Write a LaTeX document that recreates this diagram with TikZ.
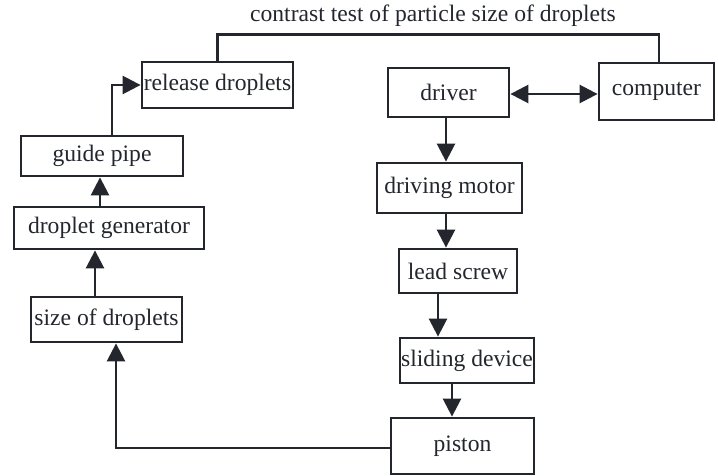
\documentclass[tikz,border=0pt]{standalone}
\usepackage{fontspec}
\setmainfont{Liberation Serif}
\usetikzlibrary{arrows.meta,calc}
\definecolor{ink}{RGB}{35,38,45}

\begin{document}
\begin{tikzpicture}[x=0.5pt,y=-0.5pt,
	lbl/.style={inner sep=0pt,text=ink,font=\fontsize{11.8}{14}\selectfont},
	box/.style={lbl,draw=ink,line width=1.4pt},
	link/.style={draw=ink,line width=1.3pt},
	flow/.style={link,-{Triangle[length=9pt,width=9pt]}},
	both/.style={link,{Triangle[length=9pt,width=9pt]}-{Triangle[length=9pt,width=9pt]}}]
	\useasboundingbox (0,0) rectangle (718,476);
	%
	\node[lbl] (title) at (433,16) {contrast test of particle size of droplets};
	\node[box,minimum width=75.5pt,minimum height=23pt] (rel) at (217.5,85) {release droplets};
	\node[box,minimum width=81pt,minimum height=20pt] (pipe) at (102,156) {guide pipe};
	\node[box,minimum width=95pt,minimum height=21pt] (gen) at (109,228) {droplet generator};
	\node[box,minimum width=75.5pt,minimum height=22.5pt] (size) at (106.5,319.5) {size of droplets};
	%
	\node[box,minimum width=60.5pt,minimum height=24.5pt] (drv) at (448.5,92.5) {driver};
	\node[box,minimum width=57.5pt,minimum height=28.5pt] (comp) at (656.5,91.5) {computer};
	\node[box,minimum width=72.5pt,minimum height=25pt] (motor) at (449.5,188) {driving motor};
	\node[box,minimum width=59pt,minimum height=22pt] (screw) at (458,271) {lead screw};
	\node[box,minimum width=67pt,minimum height=22.5pt] (slide) at (467,360.5) {sliding device};
	\node[box,minimum width=71.5pt,minimum height=28pt] (pist) at (462.5,446) {piston};
	%
	\draw[link] (rel.north) -- ++(0,-26) -| ([xshift=1.25pt]comp.north);
	\draw[flow] ([xshift=5pt]pipe.north) |- (rel.west);
	\draw[flow] ([xshift=-4.5pt]gen.north) -- ([xshift=-4.5pt]gen.north |- pipe.south);
	\draw[flow] ([xshift=-5.75pt]size.north) -- ([xshift=-5.75pt]size.north |- gen.south);
	\draw[flow] ([yshift=-1pt]pist.west) -| ([xshift=4.75pt]size.south);
	%
	\draw[both] ([yshift=-0.75pt]drv.east) -- ([yshift=-0.75pt]drv.east -| comp.west);
	\draw[flow] ([xshift=-1.25pt]drv.south) -- ([xshift=-1.25pt]drv.south |- motor.north);
	\draw[flow] ([xshift=-1.75pt]motor.south) -- ([xshift=-1.75pt]motor.south |- screw.north);
	\draw[flow] ([xshift=-10pt]screw.south) -- ([xshift=-10pt]screw.south |- slide.north);
	\draw[flow] ([xshift=-7.5pt]slide.south) -- ([xshift=-7.5pt]slide.south |- pist.north);
\end{tikzpicture}
\end{document}
